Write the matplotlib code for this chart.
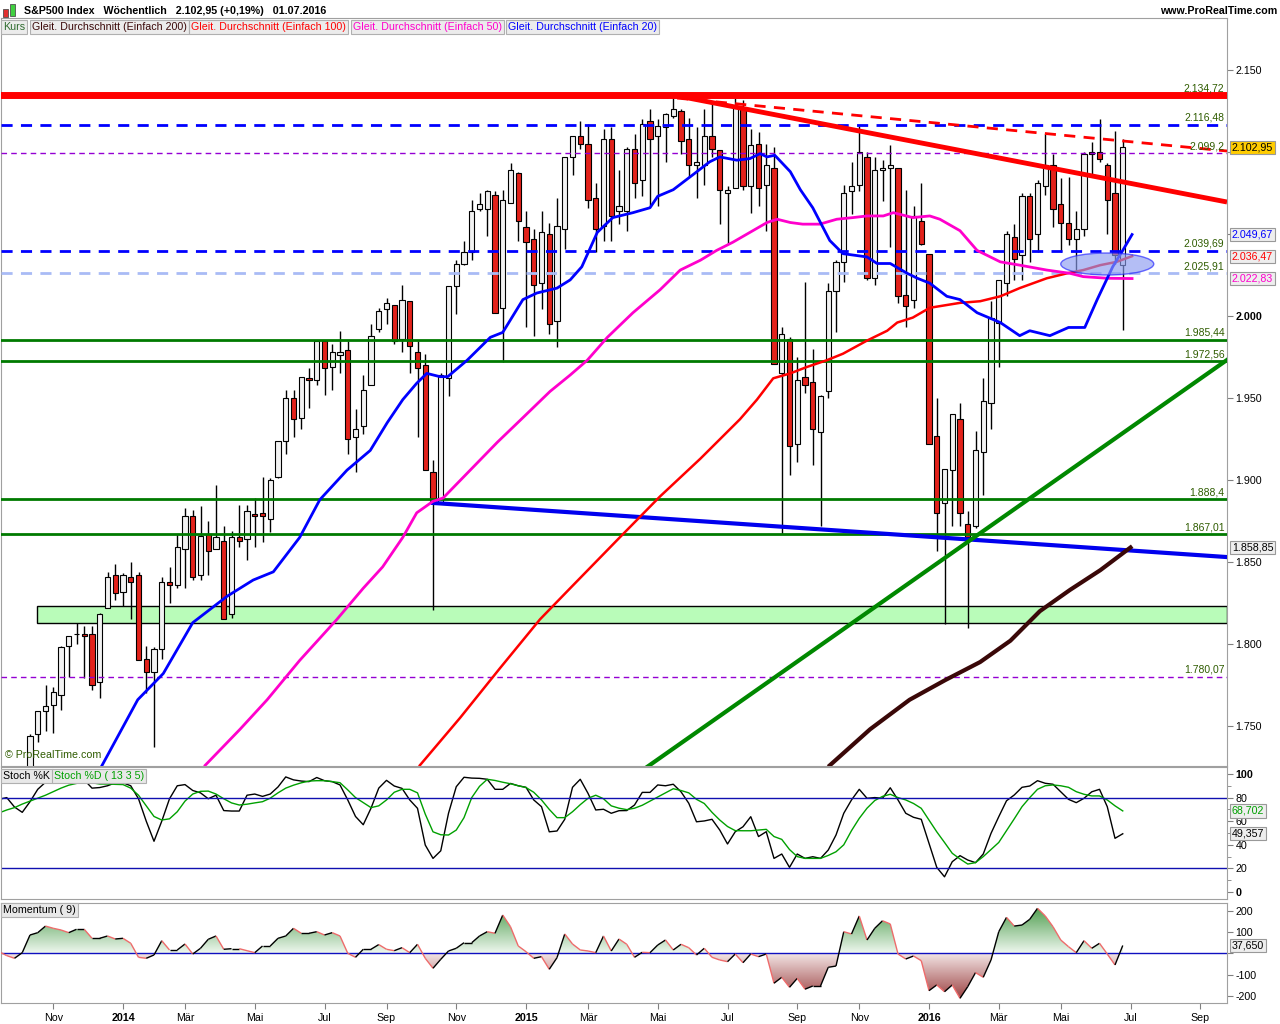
import matplotlib
matplotlib.use("Agg")
import matplotlib.pyplot as plt
import numpy as np
import pandas as pd
from matplotlib.patches import Rectangle, Ellipse
from matplotlib.collections import LineCollection
from matplotlib.colors import LinearSegmentedColormap
from matplotlib.path import Path

plt.rcParams['font.family'] = ['Liberation Sans', 'DejaVu Sans']

# weekly candles, first week starts 16.09.2013
start = pd.Timestamp('2013-09-16')
opens = [1688, 1711, 1691, 1688, 1703, 1745, 1759, 1763, 1769, 1799, 1806, 1806, 1806, 1777, 1822, 1842,
         1832, 1841, 1842, 1791, 1783, 1797, 1838, 1836, 1858, 1878, 1842, 1867, 1858, 1863, 1818, 1865,
         1864, 1879, 1880, 1876, 1902, 1924, 1950, 1938, 1962, 1961, 1985, 1969, 1976, 1979, 1926, 1933,
         1958, 1992, 2004, 2007, 1986, 2009, 1978, 1970, 1905, 1886, 1962, 2018, 2032, 2039, 2065, 2065,
         2074, 2005, 2069, 2087, 2054, 2047, 2020, 2050, 1997, 2053, 2097, 2110, 2105, 2072, 2055, 2108,
         2064, 2064, 2102, 2083, 2119, 2110, 2115, 2122, 2125, 2108, 2092, 2092, 2110, 2101, 2075, 2078,
         2127, 2079, 2105, 2080, 2090, 1965, 1986, 1922, 1963, 1960, 1929, 1954, 2015, 2033, 2076, 2080,
         2097, 2023, 2089, 2090, 2090, 2013, 2010, 2058, 2038, 1927, 1886, 1906, 1937, 1873, 1872, 1917,
         1947, 1996, 2020, 2048, 2037, 2073, 2050, 2079, 2092, 2068, 2057, 2047, 2053, 2100, 2100, 2092,
         2075, 2030.98]
highs = [1730, 1711, 1700, 1703, 1745, 1759, 1775, 1774, 1799, 1805, 1813, 1811, 1811, 1819, 1844, 1849,
         1843, 1850, 1844, 1799, 1798, 1841, 1847, 1867, 1883, 1882, 1884, 1875, 1897, 1872, 1869, 1885,
         1885, 1889, 1902, 1901, 1924, 1955, 1955, 1963, 1968, 1985, 1985, 1983, 1991, 1985, 1943, 1964,
         1995, 2005, 2011, 2007, 2019, 2009, 1985, 1977, 1912, 1965, 2018, 2034, 2046, 2071, 2075, 2077,
         2076, 2077, 2093, 2088, 2064, 2053, 2064, 2057, 2072, 2097, 2110, 2119, 2117, 2081, 2114, 2115,
         2089, 2103, 2111, 2120, 2126, 2120, 2124, 2135, 2126, 2121, 2115, 2126, 2130, 2101, 2079, 2133,
         2132, 2114, 2112, 2105, 2103, 1993, 1987, 1975, 2021, 1980, 1952, 2020, 2034, 2080, 2094, 2116,
         2100, 2097, 2095, 2104, 2090, 2077, 2067, 2081, 2038, 1950, 1907, 1940, 1947, 1881, 1930, 1962,
         2009, 2022, 2052, 2056, 2075, 2075, 2083, 2111, 2099, 2084, 2085, 2064, 2100, 2106, 2120, 2093,
         2113, 2108]
lows = [1687, 1687, 1674, 1646, 1692, 1740, 1747, 1746, 1760, 1780, 1800, 1779, 1772, 1767, 1822, 1827,
        1823, 1815, 1790, 1770, 1737, 1791, 1825, 1834, 1834, 1839, 1839, 1842, 1858, 1815, 1816, 1859,
        1851, 1859, 1862, 1868, 1901, 1916, 1926, 1931, 1944, 1958, 1952, 1955, 1965, 1916, 1905, 1928,
        1958, 1990, 1995, 1983, 1978, 1965, 1926, 1906, 1821, 1886, 1951, 2001, 2031, 2034, 2064, 2049,
        2002, 1972, 2069, 2046, 1993, 1988, 2004, 1989, 1981, 2041, 2086, 2102, 2066, 2039, 2046, 2046,
        2056, 2052, 2072, 2073, 2067, 2067, 2094, 2121, 2099, 2085, 2072, 2080, 2097, 2056, 2044, 2078,
        2077, 2063, 2067, 2052, 1971, 1867, 1903, 1911, 1953, 1909, 1872, 1950, 1990, 2021, 2062, 2076,
        2022, 2019, 2070, 2042, 2008, 1993, 2005, 2043, 1923, 1857, 1812, 1872, 1872, 1810, 1871, 1891,
        1931, 1969, 2012, 2022, 2022, 2033, 2039, 2074, 2054, 2039, 2043, 2025, 2049, 2085, 2094, 2050,
        2032, 1991.7]
closes = [1710, 1692, 1690, 1703, 1744, 1759, 1762, 1771, 1798, 1805, 1806, 1805, 1775, 1818, 1841, 1831,
          1842, 1838, 1790, 1783, 1797, 1838, 1836, 1859, 1878, 1841, 1866, 1857, 1865, 1815, 1865, 1863,
          1881, 1878, 1878, 1900, 1924, 1950, 1937, 1963, 1961, 1985, 1968, 1978, 1978, 1925, 1931, 1955,
          1988, 2003, 2008, 1985, 2010, 1982, 1968, 1906, 1887, 1964, 2018, 2032, 2039, 2064, 2068, 2076,
          2002, 2071, 2089, 2058, 2045, 2019, 2051, 1995, 2055, 2097, 2110, 2105, 2071, 2053, 2108, 2061,
          2067, 2102, 2081, 2117, 2108, 2116, 2123, 2126, 2107, 2092, 2094, 2110, 2102, 2077, 2077, 2127,
          2079, 2104, 2078, 2092, 1971, 1989, 1921, 1961, 1958, 1931, 1951, 2015, 2033, 2075, 2079, 2100,
          2023, 2089, 2090, 2092, 2012, 2006, 2061, 2044, 1922, 1880, 1907, 1940, 1880, 1865, 1918, 1948,
          1999, 2022, 2050, 2035, 2073, 2047, 2081, 2092, 2065, 2057, 2047, 2053, 2099, 2099, 2096, 2071,
          2037, 2102.95]

# moving averages (week position, value)
ma20_x = [13.3, 17.9, 21.2, 25.0, 29.4, 32.8, 35.4, 38.8, 41.4, 44.9, 47.9, 50.1, 52.1, 53.9, 55.2, 56.9,
          57.9, 60.4, 63.4, 65.0, 67.6, 69.4, 72.0, 73.7, 75.2, 77.2, 79.2, 81.8, 84.0, 85.0, 87.0, 89.5,
          91.7, 93.0, 95.2, 96.9, 98.2, 99.1, 100.1, 102.1, 103.4, 105.0, 107.2, 108.9, 112.0, 113.3, 115.0,
          117.2, 118.5, 120.1, 122.3, 124.0, 126.2, 129.2, 131.7, 133.0, 135.6, 138.0, 140.1, 141.7, 143.7,
          145.0, 146.2]
ma20_y = [1726, 1766, 1782, 1813, 1829, 1839, 1844, 1865, 1888, 1906, 1918, 1935, 1949, 1959, 1965, 1963,
          1963, 1973, 1987, 1990, 2010, 2014, 2017, 2022, 2030, 2051, 2060, 2063, 2066, 2073, 2077, 2086,
          2094, 2097, 2095, 2096, 2099, 2097, 2098, 2088, 2077, 2066, 2046, 2038, 2036, 2032, 2032,
          2026, 2023, 2020, 2012, 2010, 2002, 1996, 1988, 1991, 1988, 1993, 1993, 2010, 2030,
          2040, 2049.67]
ma50_x = [26.6, 31.1, 34.6, 38.8, 43.6, 47.0, 49.5, 52.1, 53.9, 56.0, 57.3, 60.8, 64.3, 67.6, 71.1, 73.7,
          75.9, 78.5, 81.8, 85.3, 87.9, 90.5, 92.6, 94.7, 96.9, 99.1, 100.4, 102.1, 103.7, 105.9, 108.1,
          110.2, 112.0, 114.1, 115.4, 117.9, 120.1, 121.4, 124.0, 126.2, 129.2, 131.7, 135.2, 138.2, 139.9,
          143.0, 146.2]
ma50_y = [1726, 1748, 1766, 1790, 1815, 1834, 1847, 1865, 1880, 1887, 1889, 1906, 1923, 1938, 1954, 1964,
          1973, 1987, 2002, 2016, 2028, 2034, 2040, 2045, 2051, 2057, 2059, 2057, 2056, 2056, 2059,
          2060, 2061, 2061, 2063, 2060, 2061, 2059, 2052, 2040, 2033, 2031, 2028, 2026, 2024,
          2023, 2022.83]
ma100_x = [54.3, 59.5, 64.6, 69.8, 73.7, 80.1, 85.3, 90.5, 95.6, 97.8, 99.9, 102.1, 104.3, 106.8, 108.9,
           112.0, 114.6, 115.9, 117.9, 120.1, 121.4, 124.0, 126.6, 129.2, 131.7, 135.2, 137.8, 139.9,
           142.1, 144.2, 146.2]
ma100_y = [1726, 1755, 1785, 1815, 1834, 1865, 1890, 1913, 1937, 1949, 1962, 1965, 1969, 1973, 1977,
           1985, 1991, 1996, 1999, 2005, 2006, 2008, 2009, 2012, 2017, 2023, 2026, 2028,
           2031, 2033, 2036.47]
ma200_x = [107.2, 112.4, 117.5, 122.1, 126.6, 130.5, 134.3, 138.2, 142.1, 146.0]
ma200_y = [1726, 1748, 1766, 1778, 1789, 1802, 1820, 1833, 1845, 1858.85]

# stochastic (13 3 5) and momentum (9)
stoch_k = [78.5, 80, 72, 67.5, 76.5, 87, 93, 97, 98, 96, 97, 95, 88, 88.5, 90, 92.5,
           92.5, 90, 79, 60, 43, 60, 79, 90, 91, 86, 84, 79, 82, 69, 68.6, 68.6,
           82, 83, 81, 83, 89, 97.5, 95, 94, 93.5, 97, 94.3, 93.5, 90.7, 78, 64, 57,
           71, 88, 94.6, 89.8, 87.8, 78, 70.9, 39.8, 28.5, 34.9, 66.7, 89.2, 97.2, 96.5, 96.3, 95.5,
           87, 87, 92, 90, 88.7, 78, 72.3, 51, 51.7, 61.6, 88.7, 95.5, 83.6, 69.5, 70.1, 66.7,
           68.9, 69, 73.7, 84.4, 84.4, 90.7, 90, 91.3, 84.9, 75.2, 59.5, 60.2, 61.6, 52.5, 40.7, 51.1,
           55.3, 63.8, 47, 51.1, 28.5, 32.2, 20.9, 32.2, 28.5, 29.9, 28.5, 35.6, 48.3, 66.7, 78, 87,
           79.4, 80, 79.4, 88.3, 78, 66.7, 63.3, 61.6, 41.2, 20.9, 12.9, 25.7, 30.8, 27.1, 24.9, 32.2,
           49.7, 63.8, 77.3, 82.2, 88.7, 89.8, 94.3, 92.1, 91.3, 84.9, 78.5, 75.7, 79.4, 84.9, 87, 72.3,
           45.5, 49.357]
stoch_d = [67, 69.5, 71.5, 74.5, 77, 79.5, 82, 85, 88, 90.5, 92, 93, 92.5, 91.5, 91.5, 91.2,
           91, 88, 82, 73, 64, 61, 62, 68, 77, 83, 85.3, 85.5, 83, 79, 75.5, 73.7,
           74.4, 75.5, 76.5, 79.5, 84, 88, 90.5, 92.5, 94, 94.3, 94.3, 93.5, 92.6, 86.5, 80, 75.7,
           71.5, 73, 78, 84.5, 87, 87, 84, 66, 51, 48.5, 48.3, 52.5, 63, 80, 89.5, 95.5,
           94.5, 93, 91.7, 90, 88.5, 84.5, 78, 70, 63, 63, 68, 74, 79.4, 82, 79, 73,
           71, 69.8, 71, 73.5, 77, 80.5, 84, 87.5, 86, 84, 78.5, 75, 67.5, 61, 55.5, 52,
           51.9, 51.9, 52.5, 53.1, 47, 44.6, 36, 30, 28.5, 28.5, 28.5, 31, 34.1, 40, 52, 62.4,
           71, 77.5, 81, 82.8, 80, 78, 75, 70.9, 61, 51, 42, 32.8, 28, 23.7, 24.9, 30,
           36, 42, 52, 62, 72.3, 80, 87, 90, 90.7, 90, 88.7, 85, 82.8, 81.4, 81.4, 78,
           73, 68.702]
momentum = [8.5, -10, -22.7, 3.8, 87, 98, 129, 118.6, 110.6, 98, 113.9, 113.9, 71.5, 71.5, 82.4, 68.2,
            71.5, 48, -18, -22.7, -7, 60.2, 16.5, 16.5, 44.7, -2.4, 24.5, 66.8, 82.4, 19.8, 22.6, 22.6,
            13.2, 3.8, 35.3, 35.3, 71.5, 82.4, 118.6, 95, 95, 102.6, 87, 98, 82.4, 0.9, -18, 19.8,
            19.8, 42, 19.8, 13.2, 27.3, 3.8, 43.3, -22.7, -69.6, -27.4, 11.8, 24.5, 50.8, 50.8, 82.4, 102.6,
            95, 181, 126, 35.3, 8.5, -22.7, -15, -74.4, -19.6, 91.8, 44.7, 16.5, 11.8, 3.8, 82.4, 11.8,
            68.2, 43.3, -18, 5.6, 3.8, 40, 63.5, 16.5, 43.3, 27.3, -7, 24.5, -18, -30.6, -38.5, -2.4,
            -43.3, -2.4, -15, -2.4, -140, -112, -159, -117, -168, -153, -153, -65, -59, 102.6, 91.8, 176.5,
            63.5, 118.6, 154, 139, -2.4, -26, -11.8, -33.9, -175, -148, -180, -148, -211, -156, -90, -112,
            -30.6, 102.6, 170, 129, 134, 161, 212.7, 176.5, 126, 63.5, 32, 3.8, 60.2, 24.5, 48, -2.4,
            -54, 37.65]

# horizontal levels drawn on the chart
levels = [2134.72, 2116.48, 2099.2, 2039.69, 2025.91, 1985.44, 1972.56, 1888.4, 1867.01, 1780.07]
level_labels = ['2.134,72', '2.116,48', '2.099,2', '2.039,69', '2.025,91', '1.985,44', '1.972,56',
                '1.888,4', '1.867,01', '1.780,07']
level_styles = ['red', 'bluedash', 'purple', 'bluedash', 'lightdash', 'green', 'green', 'green', 'green', 'purple']
# trend lines (week position, price)
res_line = ([87.0, 158.45], [2134.7, 2069.5])
res_dash = ([85.0, 158.45], [2134.0, 2100.6])
sup_blue = ([56.0, 158.45], [1886.0, 1853.0])
sup_green = ([80.0, 158.45], [1713.0, 1973.2])
zone = (4.9, 1812.6, 1823.2)

W, H = 1280, 1024
fig = plt.figure(figsize=(12.8, 10.24), dpi=100)


def fax(l, t, r, b):
    return fig.add_axes([l / W, 1 - b / H, (r - l) / W, (b - t) / H])


ax = fax(1, 18, 1227, 766)
axs = fax(1, 767, 1227, 899)
axm = fax(1, 903, 1227, 1003)
xlim = (0.258, 158.45)
fs = 7.7

for a in (ax, axs, axm):
    a.set_xlim(*xlim)
    for s in a.spines.values():
        s.set_color('#a0a0a0')
    a.yaxis.tick_right()
    a.tick_params(axis='y', direction='out', length=4, pad=2, labelsize=fs, color='#808080')
    a.tick_params(axis='x', length=0, labelbottom=False)

# ---- main panel ----
n = len(closes)
xw = np.arange(n)
o = np.array(opens, float)
c = np.array(closes, float)
up = c >= o
ax.vlines(xw, lows, highs, color='black', lw=1, zorder=2)
ax.bar(xw, np.abs(c - o), bottom=np.minimum(o, c), width=0.66,
       color=np.where(up, '#f2f2f2', '#e3221b'), edgecolor='black', linewidth=0.8, zorder=2.2)

ax.add_patch(Rectangle((zone[0], zone[1]), xlim[1] - zone[0], zone[2] - zone[1],
                       facecolor='#b9fcb9', edgecolor='black', lw=1, zorder=1))

for lv, st in zip(levels, level_styles):
    if st == 'red':
        ax.axhline(lv, color='#ff0000', lw=5, zorder=3)
    elif st == 'bluedash':
        ax.axhline(lv, color='#0000ff', lw=2, ls=(0, (4, 3)), zorder=3)
    elif st == 'lightdash':
        ax.axhline(lv, color='#a9bbf5', lw=2, ls=(0, (4, 3)), zorder=3)
    elif st == 'purple':
        ax.axhline(lv, color='#9400d3', lw=1, ls=(0, (4, 3)), zorder=3)
    else:
        ax.axhline(lv, color='#007a00', lw=2, zorder=3)
for lv, lab in zip(levels, level_labels):
    ax.text(0.998, lv + 1.2, lab, transform=ax.get_yaxis_transform(), ha='right', va='bottom',
            fontsize=7.5, color='#2f5c00', zorder=6)

ax.plot(*res_line, color='#ff0000', lw=3.5, zorder=4, solid_capstyle='butt')
ax.plot(*res_dash, color='#ff0000', lw=2, ls=(0, (4, 3)), zorder=4)
ax.plot(*sup_blue, color='#0000ee', lw=3, zorder=4)
ax.plot(*sup_green, color='#008800', lw=3, zorder=4)

ax.plot(ma200_x, ma200_y, color='#3a0808', lw=3, zorder=4)
ax.plot(ma100_x, ma100_y, color='#ff0000', lw=1.8, zorder=4)
ax.plot(ma50_x, ma50_y, color='#ff00cc', lw=2, zorder=4)
ax.plot(ma20_x, ma20_y, color='#0000ff', lw=2, zorder=4)

ax.add_patch(Ellipse((143.0, 2031.7), 12.0, 13.4, facecolor='#8c9cf0', edgecolor='#2020ff',
                     alpha=0.65, lw=1, zorder=5))

ax.set_ylim(1725.6, 2181.7)
yt = np.arange(1750, 2151, 50)
ax.set_yticks(yt)
# 2.050 and 2.100 sit under the value boxes on the right, so their labels stay empty
ax.set_yticklabels(['' if v in (2050, 2100) else f"{v:,.0f}".replace(',', '.') for v in yt])
for t, v in zip(ax.get_yticklabels(), yt):
    if v == 2000:
        t.set_fontweight('bold')

ax.text(0.003, 0.008, '© ProRealTime.com', transform=ax.transAxes, fontsize=fs, color='#2f5c00',
        ha='left', va='bottom', zorder=6)


def vbox(a, y, s, col, fc='#eeeeee'):
    a.text(1.004, y, s, transform=a.get_yaxis_transform(), ha='left', va='center', fontsize=fs,
           color=col, zorder=10, clip_on=False,
           bbox=dict(boxstyle='square,pad=0.15', facecolor=fc, edgecolor='#999999', lw=0.8))


vbox(ax, closes[-1], '2.102,95', 'black', '#ffcc00')
vbox(ax, ma20_y[-1], '2.049,67', '#0000ff')
vbox(ax, ma100_y[-1], '2.036,47', '#ff0000')
vbox(ax, ma50_y[-1], '2.022,83', '#ff00cc')
vbox(ax, ma200_y[-1], '1.858,85', 'black')

# ---- stochastic ----
axs.plot(xw, stoch_k, color='black', lw=1)
axs.plot(xw, stoch_d, color='#00a000', lw=1)
axs.axhline(80, color='#1010b0', lw=1)
axs.axhline(20, color='#1010b0', lw=1)
axs.set_ylim(-5.9, 105.9)
st = [0, 20, 40, 60, 80, 100]
axs.set_yticks(st)
axs.set_yticklabels([str(v) for v in st])
axs.set_yticks(np.arange(10, 100, 20), minor=True)
axs.tick_params(axis='y', which='minor', length=3, color='#808080')
for t, v in zip(axs.get_yticklabels(), st):
    if v in (0, 100):
        t.set_fontweight('bold')
vbox(axs, stoch_d[-1], '68,702', '#00a000')
vbox(axs, stoch_k[-1], '49,357', 'black')

# ---- momentum ----
mom = np.array(momentum)
fpos = axm.fill_between(xw, 0, mom, where=mom >= 0, interpolate=True, color='none', lw=0)
fneg = axm.fill_between(xw, 0, mom, where=mom <= 0, interpolate=True, color='none', lw=0)
grad = np.linspace(0, 1, 256).reshape(-1, 1)
im1 = axm.imshow(grad, extent=[0, n - 1, 0, 215], origin='lower', aspect='auto', zorder=1,
                 cmap=LinearSegmentedColormap.from_list('gp', ['#eef7ee', '#4f9e4f']))
im1.set_clip_path(Path.make_compound_path(*fpos.get_paths()), transform=axm.transData)
im2 = axm.imshow(grad, extent=[0, n - 1, -215, 0], origin='lower', aspect='auto', zorder=1,
                 cmap=LinearSegmentedColormap.from_list('gn', ['#9c4242', '#f3e6e6']))
im2.set_clip_path(Path.make_compound_path(*fneg.get_paths()), transform=axm.transData)
segs = [[(xw[k], mom[k]), (xw[k + 1], mom[k + 1])] for k in range(n - 1)]
cols = ['black' if mom[k + 1] >= mom[k] else '#ee6b6b' for k in range(n - 1)]
axm.add_collection(LineCollection(segs, colors=cols, linewidths=1, zorder=3))
axm.axhline(0, color='#1010c0', lw=1, zorder=2)
axm.set_xlim(*xlim)
axm.set_ylim(-233, 237.6)
mt = [-200, -100, 0, 100, 200]
axm.set_yticks(mt)
axm.set_yticklabels(['' if v == 0 else str(v) for v in mt])
vbox(axm, mom[-1], '37,650', 'black')

# x axis: first week of every second month
names = {3: 'Mär', 5: 'Mai', 7: 'Jul', 9: 'Sep', 11: 'Nov'}
tpos, tlab = [], []
for m in pd.date_range('2013-11-01', '2016-09-01', freq='2MS'):
    d = pd.offsets.Week(weekday=0).rollforward(m)
    tpos.append((d - start).days / 7)
    tlab.append(str(m.year) if m.month == 1 else names[m.month])
axm.set_xticks(tpos)
axm.set_xticklabels(tlab)
axm.tick_params(axis='x', length=4, labelbottom=True, labelsize=fs, pad=3, color='#808080')
for t, s in zip(axm.get_xticklabels(), tlab):
    if s.isdigit():
        t.set_fontweight('bold')

# panel labels
axs.text(0.002, 0.93, 'Stoch %K', transform=axs.transAxes, fontsize=fs, color='black', va='center',
         bbox=dict(boxstyle='square,pad=0.2', facecolor='#e8e8e8', edgecolor='#b0b0b0', lw=0.8))
axs.text(0.043, 0.93, 'Stoch %D ( 13 3 5)', transform=axs.transAxes, fontsize=fs, color='#00a000',
         va='center', bbox=dict(boxstyle='square,pad=0.2', facecolor='#e8e8e8', edgecolor='#b0b0b0', lw=0.8))
axm.text(0.002, 0.93, 'Momentum ( 9)', transform=axm.transAxes, fontsize=fs, color='black', va='center',
         bbox=dict(boxstyle='square,pad=0.2', facecolor='#e8e8e8', edgecolor='#b0b0b0', lw=0.8))

# header
fig.text(24 / W, 1 - 11 / H, 'S&P500 Index   Wöchentlich   2.102,95 (+0,19%)   01.07.2016',
         fontsize=fs, fontweight='bold', va='center', ha='left')
fig.text(1277 / W, 1 - 11 / H, 'www.ProRealTime.com', fontsize=fs, fontweight='bold', va='center', ha='right')
fig.add_artist(Rectangle((3 / W, 1 - 17 / H), 5 / W, 8 / H, facecolor='#e03030', edgecolor='#505050',
                         lw=0.6, transform=fig.transFigure))
fig.add_artist(Rectangle((10 / W, 1 - 16 / H), 5 / W, 12 / H, facecolor='#40d040', edgecolor='#505050',
                         lw=0.6, transform=fig.transFigure))

legend = [('Kurs', '#2e6b2e', 3), ('Gleit. Durchschnitt (Einfach 200)', '#3a0808', 32),
          ('Gleit. Durchschnitt (Einfach 100)', '#ff0000', 191),
          ('Gleit. Durchschnitt (Einfach 50)', '#ff00cc', 353),
          ('Gleit. Durchschnitt (Einfach 20)', '#0000ff', 508)]
for s, col, x0 in legend:
    fig.text(x0 / W, 1 - 27 / H, s, fontsize=fs, color=col, va='center', ha='left', zorder=10,
             bbox=dict(boxstyle='square,pad=0.2', facecolor='#ececec', edgecolor='#b0b0b0', lw=0.8))

fig.savefig('out.png', dpi=100)
